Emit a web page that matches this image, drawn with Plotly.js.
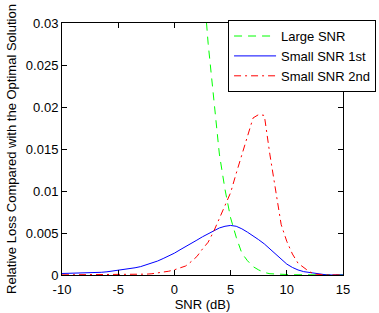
<!DOCTYPE html>
<html>
<head>
<meta charset="utf-8">
<script src="https://cdn.plot.ly/plotly-3.0.1.min.js"></script>
<style>html,body{margin:0;padding:0;background:#fff;}#chart{width:379px;height:313px;}</style>
</head>
<body>
<div id="chart"></div>
<script>
// SNR grid (dB)
const snr = [-10,-9.5,-9,-8.5,-8,-7.5,-7,-6.5,-6,-5.5,-5,-4.5,-4,-3.5,-3,-2.5,-2,-1.5,-1,-0.5,0,0.5,1,1.5,2,2.5,3,3.5,4,4.5,5,5.5,6,6.5,7,7.5,8,8.5,9,9.5,10,10.5,11,11.5,12,12.5,13,13.5,14,14.5,15];
// Large SNR approximation (only the visible part, starts above the axis top)
const snrLarge = [2,2.5,3,3.5,4,4.5,5,5.5,6,6.5,7,7.5,8,8.5,9,9.5,10,10.5,11,11.5,12,12.5,13,13.5,14,14.5,15];
const largeSNR = [0.05,0.036,0.0276,0.0207,0.0144,0.0102,0.0068,0.0045,0.0026,0.0017,0.001,0.0006,0.0003,0.00015,0.0001,0.00006,0.00004,0.00003,0.00003,0.00002,0.00002,0.00002,0.00001,0.00001,0.00001,0.00001,0.00001];
const smallSNR1st = [0.00018,0.00019,0.0002,0.00021,0.00023,0.00025,0.00028,0.00032,0.00038,0.00046,0.00055,0.00063,0.00073,0.00086,0.001,0.0012,0.0014,0.00166,0.00196,0.00225,0.0026,0.003,0.00335,0.00375,0.00415,0.00455,0.0049,0.0053,0.0056,0.0058,0.0059,0.0058,0.0055,0.0051,0.0047,0.0042,0.0037,0.0031,0.0025,0.0019,0.0013,0.0009,0.0006,0.0004,0.0003,0.00015,0.00005,0.00002,0.00001,0.00001,0.00001];
const smallSNR2nd = [0.00002,0.00002,0.00002,0.00002,0.00002,0.00002,0.00002,0.00002,0.00002,0.00003,0.00003,0.00004,0.00004,0.00005,0.00006,0.0001,0.00015,0.00024,0.00033,0.00045,0.00062,0.00085,0.00107,0.0016,0.0022,0.0031,0.0039,0.0052,0.0067,0.0082,0.0098,0.0121,0.0143,0.0168,0.0187,0.0191,0.019,0.0143,0.0101,0.006,0.004,0.0025,0.0014,0.0009,0.0004,0.0001,0.00002,0.00001,0.00001,0.00001,0.00001];
const seriesNames = ['Large SNR','Small SNR 1st','Small SNR 2nd'];
const xTickVals = [-10,-5,0,5,10,15];
const xTickText = ['-10','-5','0','5','10','15'];
const yTickVals = [0,0.005,0.01,0.015,0.02,0.025,0.03];
const yTickText = ['0','0.005','0.01','0.015','0.02','0.025','0.03'];

const font = {family:'Liberation Sans, Arial, Helvetica, sans-serif', size:13, color:'#000'};
const traces = [
  {x:snrLarge, y:largeSNR, name:seriesNames[0], mode:'lines', line:{color:'#00ff00', width:1, dash:'8px,6px'}},
  {x:snr, y:smallSNR1st, name:seriesNames[1], mode:'lines', line:{color:'#0000ff', width:1}},
  {x:snr, y:smallSNR2nd, name:seriesNames[2], mode:'lines', line:{color:'#ff0000', width:1, dash:'7px,4px,2px,4px'}}
];
const axisCommon = {showline:true, linecolor:'#000', linewidth:1, mirror:'ticks', ticks:'inside', ticklen:5, tickcolor:'#000', tickwidth:1, showgrid:false, zeroline:false, tickfont:font};
const layout = {
  width:379, height:313,
  margin:{l:62, r:2, t:18, b:38},
  paper_bgcolor:'#fff', plot_bgcolor:'#fff',
  font:font,
  showlegend:true,
  xaxis:Object.assign({}, axisCommon, {domain:[0, 281/315], range:[-10,15], tickmode:'array', tickvals:xTickVals, ticktext:xTickText, ticklabelstandoff:2, title:{text:'SNR (dB)', font:font, standoff:2}}),
  yaxis:Object.assign({}, axisCommon, {domain:[0, 252/257], range:[0,0.03], tickmode:'array', tickvals:yTickVals, ticktext:yTickText, title:{text:'Relative Loss Compared with the Optimal Solution', font:font, standoff:6}}),
  legend:{x:0.997, xanchor:'right', y:0.992, yanchor:'top', bgcolor:'#fff', bordercolor:'#000', borderwidth:1, font:font, tracegroupgap:0, itemwidth:42}
};
Plotly.newPlot('chart', traces, layout, {staticPlot:true, displayModeBar:false});
</script>
</body>
</html>
